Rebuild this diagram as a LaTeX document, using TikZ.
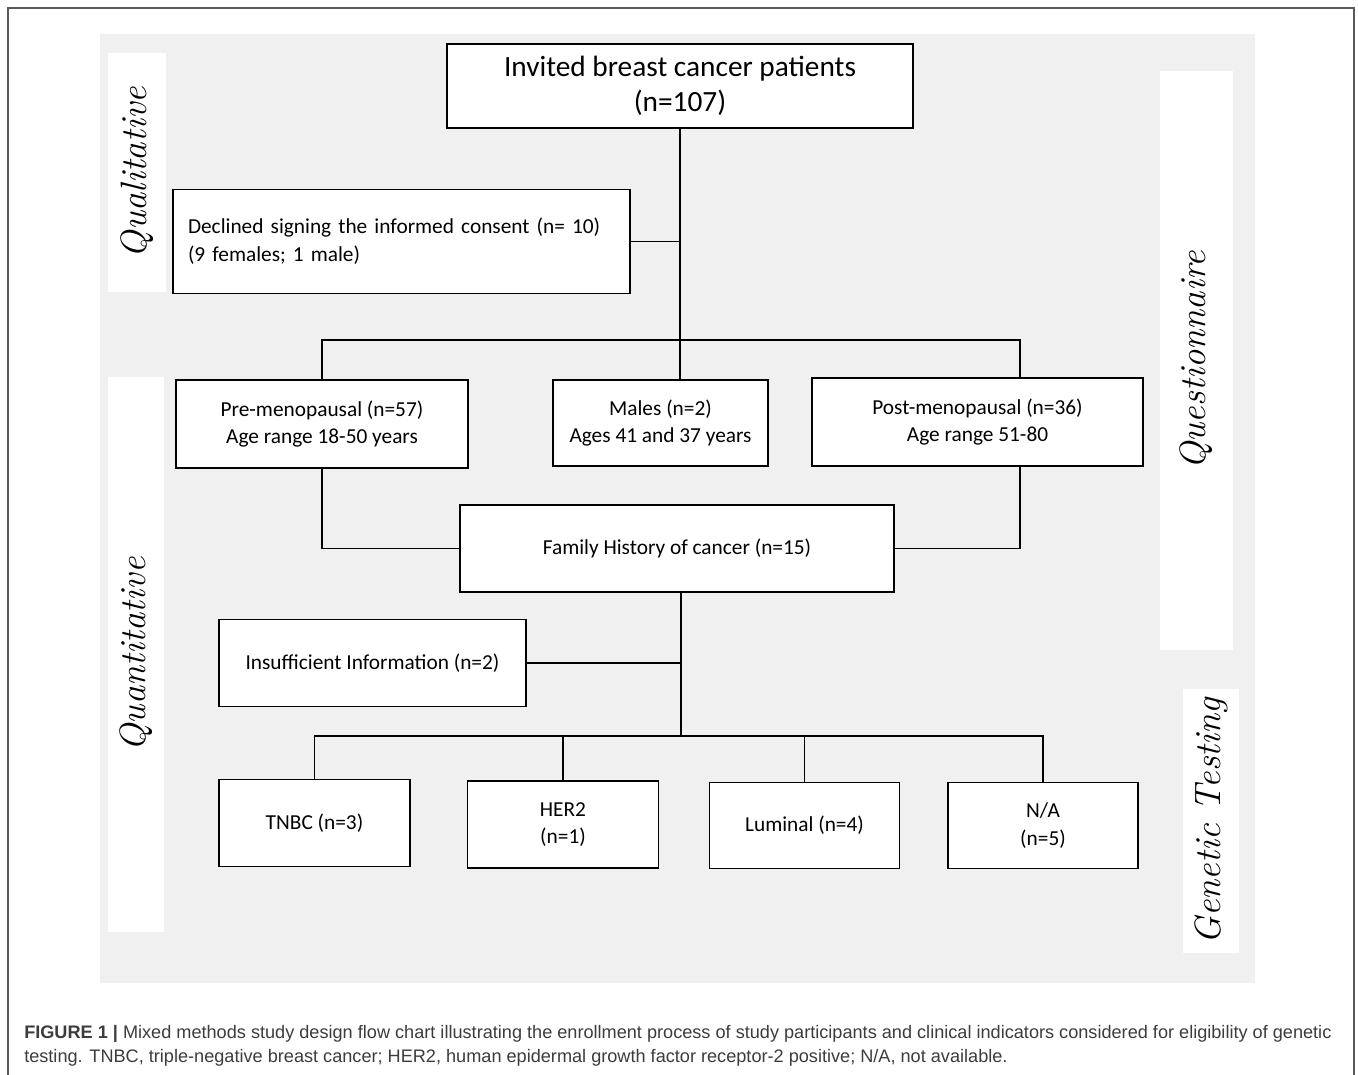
\documentclass[tikz,border=0pt]{standalone}
\usepackage{fontspec}
\newfontfamily\boxfont{Carlito}
\newfontfamily\capfont{Liberation Sans}
\definecolor{panel}{RGB}{240,240,240}
\definecolor{capgray}{RGB}{60,60,60}
\begin{document}
\begin{tikzpicture}[x=0.75pt,y=-0.75pt,
    box/.style={draw, line width=1.1pt, fill=white, inner sep=0pt, align=center,
      font=\boxfont\fontsize{16}{20.5}\selectfont},
    strip/.style={fill=white, rotate=90, inner sep=0pt,
      font=\itshape\fontsize{27.5}{30}\selectfont},
    link/.style={line width=1pt}]
        \useasboundingbox (0,0) rectangle (1358,1074);
        \fill [panel] (100,34) rectangle (1255,983);
        \draw [line width=1.1pt, gray!70!black] (8,8) rectangle (1354,1100);
        % side labels
        \node [strip, minimum width=179.25pt, minimum height=43.5pt] (qual) at (137,172.5) {Qualitative};
        \node [strip, minimum width=416.25pt, minimum height=42pt] (quant) at (136,654.5) {Quantitative};
        \node [strip, minimum width=434.25pt, minimum height=54.75pt] (quest) at (1196.5,360.5) {Questionnaire};
        \node [strip, minimum width=198pt, minimum height=42pt] (gen) at (1211,821) {Genetic Testing};
        % boxes
        \node [box, minimum width=349.5pt, minimum height=63pt, font=\boxfont\fontsize{22}{26.5}\selectfont] (inv) at (680,86) {Invited breast cancer patients\\(n=107)};
        \node [box, text width=320.25pt, inner xsep=11.25pt, minimum height=78pt, align=left, font=\boxfont\fontsize{16}{21}\selectfont] (decl) at (401.5,241.5) {Declined signing the informed consent (n= 10)\\(9 females; 1 male)};
        \node [box, minimum width=219pt, minimum height=66pt] (pre) at (322,424) {Pre-menopausal (n=57)\\Age range 18-50 years};
        \node [box, minimum width=161.25pt, minimum height=64.5pt] (male) at (660.5,423) {Males (n=2)\\Ages 41 and 37 years};
        \node [box, minimum width=248.25pt, minimum height=66pt] (post) at (977.5,422) {Post-menopausal (n=36)\\Age range 51-80};
        \node [box, minimum width=325.5pt, minimum height=65.25pt] (fam) at (677,548.5) {Family History of cancer (n=15)};
        \node [box, minimum width=230.25pt, minimum height=65.25pt] (insuf) at (372.5,663) {Insufficient Information (n=2)};
        \node [box, minimum width=143.25pt, minimum height=65.25pt] (tnbc) at (314.5,823) {TNBC (n=3)};
        \node [box, minimum width=143.25pt, minimum height=65.25pt] (her) at (563,824.5) {HER2\\(n=1)};
        \node [box, minimum width=142.5pt, minimum height=64.5pt] (lum) at (804.5,825.5) {Luminal (n=4)};
        \node [box, minimum width=142.5pt, minimum height=64.5pt] (na) at (1043,825.5) {N/A\\(n=5)};
        % branch points
        \coordinate (split) at (1020,340);
        \coordinate (split2) at (681,736);
        % connectors
        \draw [link] (inv.south) -- (inv.south |- male.north);
        \draw [link] (decl.east) -- (decl.east -| inv.south);
        \draw [link] (pre.north) |- (split) -- (split |- post.north);
        \draw [link] (pre.south) |- (fam.west);
        \draw [link] (split |- post.south) |- (fam.east);
        \draw [link] (split2 |- fam.south) -- (split2);
        \draw [link] (insuf.east) -- (insuf.east -| split2);
        \draw [link] (tnbc.north) |- (na.north |- split2) -- (na.north);
        \draw [link] (her.north) -- (her.north |- split2);
        \draw [link] (lum.north) -- (lum.north |- split2);
        % caption
        \node [anchor=north west, inner sep=0pt, align=left, text=capgray,
          font=\capfont\fontsize{13.6}{18}\selectfont] (cap) at (24,1025)
          {\textbf{FIGURE 1 |} Mixed methods study design flow chart illustrating the enrollment process of study participants and clinical indicators considered for eligibility of genetic\\
           testing. TNBC, triple-negative breast cancer; HER2, human epidermal growth factor receptor-2 positive; N/A, not available.};
      \end{tikzpicture}
\end{document}
